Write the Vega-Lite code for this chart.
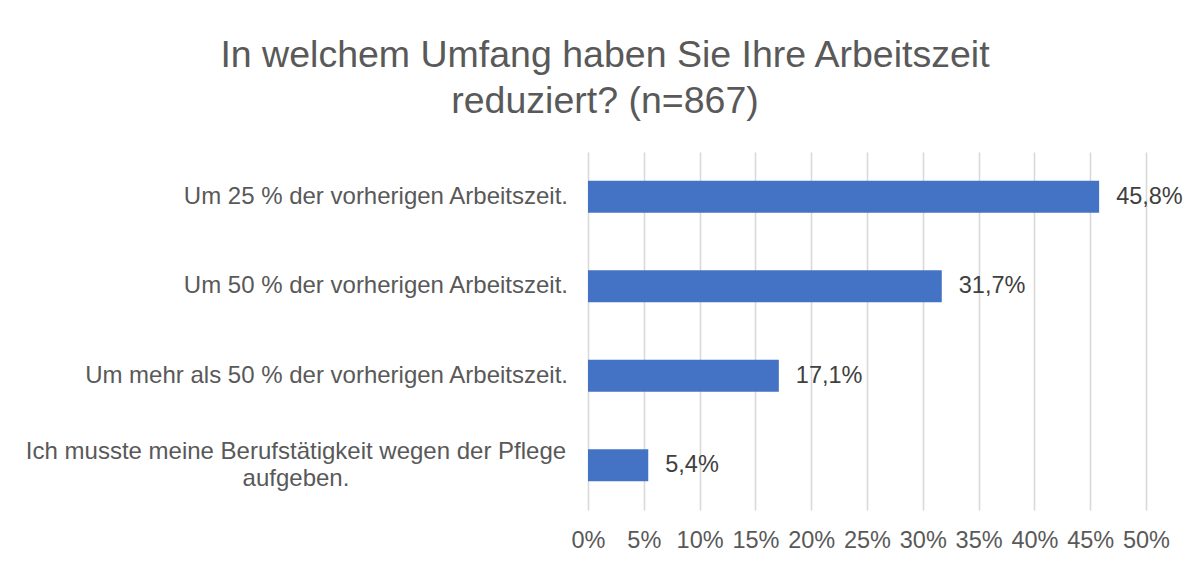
{
  "$schema": "https://vega.github.io/schema/vega-lite/v6.json",
  "autosize": {"type": "none"},
  "padding": {"left": 588, "top": 152, "right": 48, "bottom": 51},
  "width": 558,
  "height": 358,
  "background": "white",
  "title": {
    "text": ["In welchem Umfang haben Sie Ihre Arbeitszeit", "reduziert? (n=867)"],
    "anchor": "middle",
    "frame": "group",
    "dx": -262,
    "offset": 32,
    "font": "Liberation Sans",
    "fontSize": 37.5,
    "fontWeight": "normal",
    "color": "#595959",
    "lineHeight": 46
  },
  "data": {
    "values": [
      {"kategorie": "Um 25 % der vorherigen Arbeitszeit.", "anteil": 0.458, "mehrzeilig": false},
      {"kategorie": "Um 50 % der vorherigen Arbeitszeit.", "anteil": 0.317, "mehrzeilig": false},
      {"kategorie": "Um mehr als 50 % der vorherigen Arbeitszeit.", "anteil": 0.171, "mehrzeilig": false},
      {"kategorie": "Ich musste meine Berufstätigkeit wegen der Pflege\naufgeben.", "anteil": 0.054, "mehrzeilig": true}
    ]
  },
  "encoding": {
    "y": {
      "field": "kategorie",
      "type": "nominal",
      "sort": null,
      "scale": {"paddingInner": 0.64, "paddingOuter": 0.32},
      "axis": null
    }
  },
  "layer": [
    {
      "mark": {"type": "bar", "color": "#4472C4"},
      "encoding": {
        "x": {
          "field": "anteil",
          "type": "quantitative",
          "scale": {"domain": [0, 0.5], "nice": false},
          "axis": {
            "title": null,
            "format": ".0%",
            "values": [0, 0.05, 0.1, 0.15, 0.2, 0.25, 0.3, 0.35, 0.4, 0.45, 0.5],
            "grid": true,
            "gridColor": "#d9d9d9",
            "gridWidth": 1.6,
            "domain": false,
            "ticks": false,
            "labelOverlap": false,
            "labelFlush": false,
            "labelBound": false,
            "labelPadding": 18,
            "labelFont": "Liberation Sans",
            "labelFontSize": 23.5,
            "labelColor": "#595959"
          }
        }
      }
    },
    {
      "mark": {"type": "text", "align": "left", "baseline": "middle", "dx": 17, "font": "Liberation Sans", "fontSize": 23.5, "color": "#404040"},
      "encoding": {
        "x": {"field": "anteil", "type": "quantitative"},
        "text": {"field": "anteil", "type": "quantitative", "format": ".1%"}
      }
    },
    {
      "transform": [{"filter": "!datum.mehrzeilig"}],
      "mark": {"type": "text", "align": "right", "baseline": "middle", "dx": -20, "font": "Liberation Sans", "fontSize": 24, "color": "#595959"},
      "encoding": {
        "x": {"datum": 0, "type": "quantitative"},
        "text": {"field": "kategorie", "type": "nominal"}
      }
    },
    {
      "transform": [{"filter": "datum.mehrzeilig"}],
      "mark": {"type": "text", "align": "center", "baseline": "middle", "dx": -292, "dy": -13.5, "lineBreak": "\n", "lineHeight": 27, "font": "Liberation Sans", "fontSize": 24, "color": "#595959"},
      "encoding": {
        "x": {"datum": 0, "type": "quantitative"},
        "text": {"field": "kategorie", "type": "nominal"}
      }
    }
  ],
  "config": {
    "view": {"stroke": null},
    "locale": {
      "number": {"decimal": ",", "thousands": ".", "grouping": [3], "currency": ["", " €"]}
    }
  }
}
